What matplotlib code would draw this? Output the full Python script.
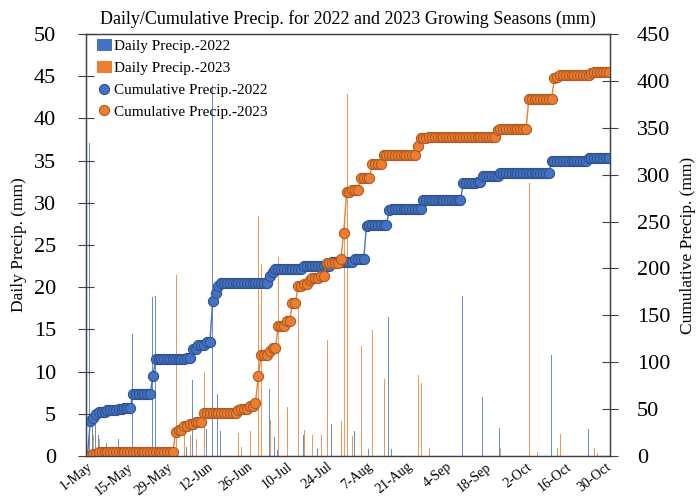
import numpy as np
import pandas as pd
import matplotlib
matplotlib.use("Agg")
import matplotlib.pyplot as plt
from matplotlib.lines import Line2D
from matplotlib.patches import Patch

plt.rcParams['font.family'] = ['Liberation Serif', 'DejaVu Serif']

# Daily rainfall on rainy days of each growing season (mm)
rain_dates_2022 = ["05-02", "05-03", "05-04", "05-05", "05-08", "05-12", "05-14", "05-17",
                   "05-24", "05-25", "06-05", "06-07", "06-09", "06-12", "06-14", "06-15",
                   "06-16", "06-17", "07-04", "07-05", "07-06", "07-07", "07-16", "07-21",
                   "07-26", "08-03", "08-07", "08-08", "08-15", "08-16", "08-27", "09-10",
                   "09-15", "09-17", "09-23", "10-11", "10-24"]
rain_mm_2022 = [37.1, 3.5, 4.0, 2.5, 1.5, 2.0, 1.0, 14.5,
                18.8, 19.0, 1.1, 9.0, 4.5, 3.2, 44.0, 8.4,
                7.4, 3.0, 7.9, 4.3, 2.3, 0.7, 2.5, 0.8,
                3.8, 3.0, 35.5, 0.8, 16.5, 0.8, 9.2, 19.0,
                0.3, 7.0, 3.3, 12.0, 3.2]

rain_dates_2023 = ["05-03", "05-05", "06-01", "06-02", "06-04", "06-06", "06-08", "06-11",
                   "06-23", "06-24", "06-27", "06-29", "06-30", "07-01", "07-04", "07-05",
                   "07-07", "07-10", "07-12", "07-14", "07-16", "07-18", "07-19", "07-22",
                   "07-24", "07-29", "07-30", "07-31", "08-02", "08-05", "08-09", "08-13",
                   "08-25", "08-26", "08-29", "09-22", "09-23", "10-03", "10-06", "10-12",
                   "10-13", "10-14", "10-25", "10-26", "10-27"]
rain_mm_2023 = [2.5, 2.0, 21.4, 1.5, 4.2, 2.5, 2.0, 10.0,
                2.7, 1.1, 3.0, 4.0, 28.4, 22.8, 4.3, 2.5,
                23.6, 5.8, 19.0, 17.5, 3.1, 3.5, 2.5, 2.5,
                13.7, 4.1, 28.0, 42.9, 2.4, 13.0, 14.9, 9.1,
                9.6, 8.6, 1.0, 7.6, 1.0, 32.4, 0.5, 22.0,
                1.0, 2.6, 1.6, 1.0, 0.4]

tick_labels = ["1-May", "15-May", "29-May", "12-Jun", "26-Jun", "10-Jul", "24-Jul",
               "7-Aug", "21-Aug", "4-Sep", "18-Sep", "2-Oct", "16-Oct", "30-Oct"]


def season_series(year, dates, mm):
    days = pd.date_range(f"{year}-05-01", f"{year}-10-31", freq="D")
    s = pd.Series(0.0, index=days)
    s.loc[pd.to_datetime([f"{year}-{d}" for d in dates])] = mm
    return s


daily22 = season_series(2022, rain_dates_2022, rain_mm_2022)
daily23 = season_series(2023, rain_dates_2023, rain_mm_2023)
cum22 = daily22.cumsum()
cum23 = daily23.cumsum()
x = np.arange(len(daily22))

BLUE, BLUE_EDGE = "#4472C4", "#2F528F"
ORANGE, ORANGE_EDGE = "#ED7D31", "#AE5A21"
AXIS = "#404040"
MS = 7.3

fig = plt.figure(figsize=(7, 4.97), dpi=100)
ax = fig.add_axes([86 / 700, 41 / 497, 524 / 700, 422 / 497])

ax.bar(x - 0.18, daily22.values, width=0.3, color=BLUE, alpha=0.8, linewidth=0)
ax.bar(x + 0.18, daily23.values, width=0.3, color=ORANGE, alpha=0.8, linewidth=0)
ax.set_xlim(-0.5, len(x) - 0.5)
ax.set_ylim(0, 50)
ax.set_yticks(np.arange(0, 51, 5))

ax2 = ax.twinx()
ax2.plot(x, cum22.values, "-o", color=BLUE, lw=1, ms=MS, mfc=BLUE, mec=BLUE_EDGE, mew=0.8)
ax2.plot(x, cum23.values, "-o", color=ORANGE, lw=1, ms=MS, mfc=ORANGE, mec=ORANGE_EDGE, mew=0.8)
ax2.set_ylim(0, 450)
ax2.set_yticks(np.arange(0, 451, 50))

ax.set_xticks(x[::14])
ax.set_xticklabels(tick_labels, rotation=38, ha="right", rotation_mode="anchor", fontsize=10)
ax.tick_params(axis="x", length=0, pad=3)
ax.tick_params(axis="y", direction="inout", length=11, width=0.8, color=AXIS,
               labelsize=16, pad=16)
ax2.tick_params(axis="y", direction="inout", length=11, width=0.8, color=AXIS,
                labelsize=16, pad=14)

for a in (ax, ax2):
    for sp in a.spines.values():
        sp.set_color(AXIS)
        sp.set_linewidth(0.9)

ax.set_ylabel("Daily Precip. (mm)", fontsize=12.5, labelpad=5)
ax2.set_ylabel("Cumulative Precip. (mm)", fontsize=12.5, labelpad=7)
ax.set_title("Daily/Cumulative Precip. for 2022 and 2023 Growing Seasons (mm)",
             fontsize=13, pad=7)

handles = [
    Patch(facecolor=BLUE, edgecolor="none"),
    Patch(facecolor=ORANGE, edgecolor="none"),
    Line2D([], [], ls="none", marker="o", ms=MS, mfc=BLUE, mec=BLUE_EDGE, mew=0.8),
    Line2D([], [], ls="none", marker="o", ms=MS, mfc=ORANGE, mec=ORANGE_EDGE, mew=0.8),
]
labels = ["Daily Precip.-2022", "Daily Precip.-2023",
          "Cumulative Precip.-2022", "Cumulative Precip.-2023"]
ax2.legend(handles, labels, loc="upper left", bbox_to_anchor=(0.01, 1.0), frameon=False,
           fontsize=11, handlelength=1.0, handleheight=0.8, handletextpad=0.15,
           labelspacing=0.5, borderaxespad=0.2, borderpad=0.15)

fig.savefig("out.png", dpi=100)
